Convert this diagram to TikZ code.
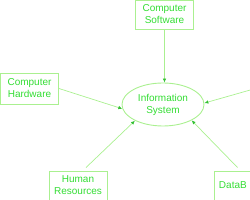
\documentclass[tikz,border=0pt]{standalone}
\usepackage{fontspec}
\setmainfont{Liberation Sans}
\usetikzlibrary{arrows.meta,shapes.geometric,calc}
\definecolor{linegreen}{HTML}{AAF090}
\definecolor{textgreen}{HTML}{33DD33}
\definecolor{tipgreen}{HTML}{33C033}
\begin{document}
\begin{tikzpicture}[x=1pt,y=-1pt,
  box/.style={draw=linegreen,line width=0.9pt,rectangle,inner sep=0pt,
    text=textgreen,font=\fontsize{10}{12}\selectfont,align=center},
  ell/.style={draw=linegreen,line width=0.9pt,ellipse,inner sep=0pt,
    minimum width=82pt,minimum height=43pt,text=textgreen,
    font=\fontsize{10}{12}\selectfont,align=center},
  conn/.style={draw=linegreen,line width=0.7pt,
    -{Latex[length=4pt,width=3.5pt,color=tipgreen]}}]
\useasboundingbox (0,0) rectangle (250,200);
\clip (0,0) rectangle (250,200);
\node[ell] (is) at (163,104.5) {Information\\System};
\node[box,minimum width=58pt,minimum height=29pt] (sw) at (164.5,14.5) {Computer\\Software};
\node[box,minimum width=58pt,minimum height=31pt] (hw) at (29.5,88.5) {Computer\\Hardware};
\node[box,minimum width=58pt,minimum height=29pt] (hr) at (78,185.5) {Human\\Resources};
\node[box,minimum width=58pt,minimum height=29pt,text width=54pt,align=left] (db) at (243,185.5) {\hspace*{3pt}DataB};
\coordinate (rt) at (252,89.5);
\draw[conn] (sw.south) -- (sw.south |- is.north);
\draw[conn] (hw.east) -- (is.186);
\draw[conn] (rt) -- (is.2);
\draw[conn] ($(hr.north)+(8,-3)$) -- (is.210);
\draw[conn] ($(db.north west)+(24,-3)$) -- (is.331);
\end{tikzpicture}
\end{document}
